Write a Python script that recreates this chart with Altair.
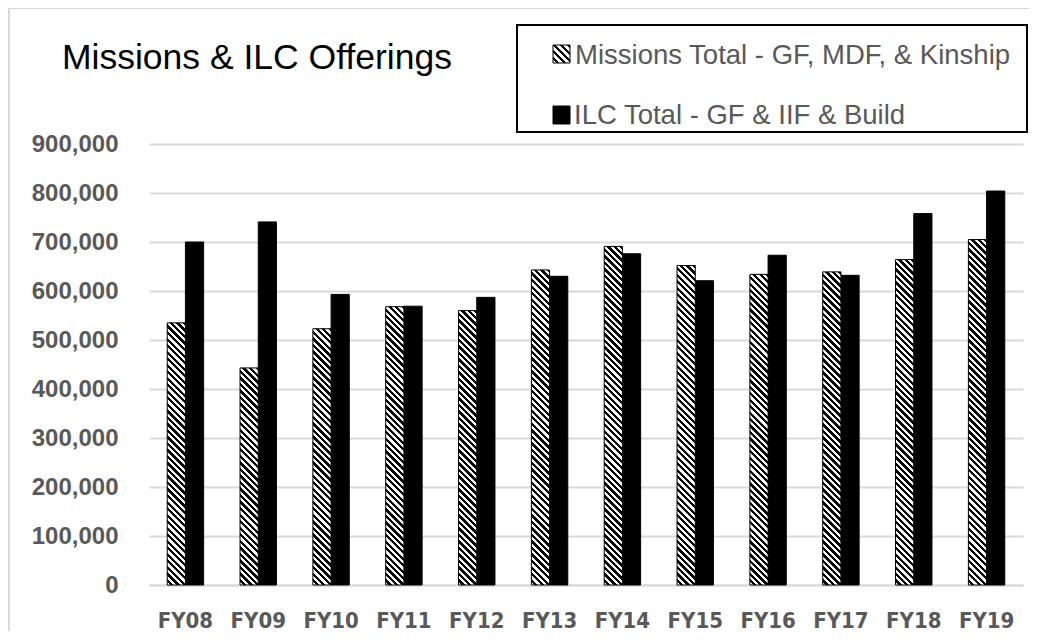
import altair as alt
import pandas as pd

# ---------------- data ----------------
years = ["FY08", "FY09", "FY10", "FY11", "FY12", "FY13",
         "FY14", "FY15", "FY16", "FY17", "FY18", "FY19"]
missions = [535000, 443000, 523000, 568000, 560000, 643000,
            691000, 652000, 634000, 639000, 664000, 705000]
ilc = [700000, 741000, 593000, 569000, 587000, 630000,
       676000, 621000, 673000, 632000, 758000, 804000]
series = ["Missions Total - GF, MDF, & Kinship", "ILC Total - GF & IIF & Build"]
y_ticks = [0, 100000, 200000, 300000, 400000, 500000, 600000, 700000, 800000, 900000]
title_text = "Missions & ILC Offerings"

# ---------------- layout / style ----------------
W, H = 874, 441
YMAX = 900000
PAD_IN, PAD_OUT = 0.5, 0.25
STEP = W / (len(years) - PAD_IN + 2 * PAD_OUT)
BAR_W = STEP * (1 - PAD_IN) / 2
PITCH = 6.5
GREY = "#595959"
FONT = "Liberation Sans"
NARROW = "Liberation Sans Narrow, DejaVu Sans Condensed, Liberation Sans"


def hatch(w, h, pitch=PITCH):
    """Diagonal '\\' stripe pattern as a linear gradient in bbox units."""
    n = max(1, round((w + h) / pitch))
    k = (w + h) / (w * w + h * h)
    stops = []
    for i in range(n):
        a, b, c = i / n, (i + 0.5) / n, (i + 1) / n
        stops += [
            {"offset": a, "color": "white"},
            {"offset": b, "color": "white"},
            {"offset": b, "color": "black"},
            {"offset": c, "color": "black"},
        ]
    return {"gradient": "linear", "x1": 0, "y1": 1,
            "x2": k * w, "y2": 1 - k * h, "stops": stops}


rows = []
for yr, m, i in zip(years, missions, ilc):
    rows.append({"year": yr, "series": series[0], "value": m})
    rows.append({"year": yr, "series": series[1], "value": i})
df = pd.DataFrame(rows)

x_enc = alt.X(
    "year:N",
    scale=alt.Scale(domain=years, paddingInner=PAD_IN, paddingOuter=PAD_OUT),
    axis=alt.Axis(title=None, labelAngle=0, ticks=False, tickSize=0,
                  domainColor="#d9d9d9", domainWidth=2,
                  labelFont=NARROW, labelFontSize=22, labelFontWeight="bold",
                  labelColor=GREY, labelPadding=25),
)
xo_enc = alt.XOffset("series:N", scale=alt.Scale(domain=series, paddingInner=0, paddingOuter=0))
y_enc = alt.Y(
    "value:Q",
    scale=alt.Scale(domain=[0, YMAX], nice=False, zero=True),
    axis=alt.Axis(title=None, values=y_ticks, format=",.0f", ticks=False, tickSize=0,
                  domain=False, grid=True, gridColor="#d9d9d9", gridWidth=2,
                  labelFont=FONT, labelFontSize=24, labelFontWeight="bold",
                  labelColor=GREY, labelPadding=31),
)

base = alt.Chart(df).encode(x=x_enc, xOffset=xo_enc, y=y_enc)

# solid black ILC bars
ilc_bars = base.transform_filter(alt.datum.series == series[1]).mark_bar(
    fill="black", stroke="black", strokeWidth=1
)

# hatched Missions bars, one layer each (pattern sized to each bar)
hatched_layers = []
for yr, m in zip(years, missions):
    h = m / YMAX * H
    hatched_layers.append(
        base.transform_filter(
            (alt.datum.series == series[0]) & (alt.datum.year == yr)
        ).mark_bar(fill=hatch(BAR_W, h), stroke="black", strokeWidth=1)
    )

one = pd.DataFrame({"a": [0]})

# outer chart border
border = alt.Chart(one).mark_rect(fill="transparent", stroke="#d9d9d9", strokeWidth=2).encode(
    x=alt.value(-140), x2=alt.value(2000), y=alt.value(-136), y2=alt.value(2000)
)

# title
title = alt.Chart(one).mark_text(
    text=title_text, font=FONT, fontSize=35.5, color="black", align="left", baseline="alphabetic"
).encode(x=alt.value(-87), y=alt.value(-75))

# legend box
leg_box = alt.Chart(one).mark_rect(fill="white", stroke="black", strokeWidth=2).encode(
    x=alt.value(368), x2=alt.value(878), y=alt.value(-119), y2=alt.value(-12)
)
leg_sym1 = alt.Chart(one).mark_rect(fill=hatch(17, 18, 7), stroke="black", strokeWidth=1).encode(
    x=alt.value(404), x2=alt.value(421), y=alt.value(-99), y2=alt.value(-81)
)
leg_sym2 = alt.Chart(one).mark_rect(fill="black", stroke="black", strokeWidth=1).encode(
    x=alt.value(404), x2=alt.value(421), y=alt.value(-38), y2=alt.value(-20)
)
leg_txt1 = alt.Chart(one).mark_text(
    text=series[0], font=FONT, fontSize=27.5, color=GREY, align="left", baseline="alphabetic"
).encode(x=alt.value(426), y=alt.value(-80))
leg_txt2 = alt.Chart(one).mark_text(
    text=series[1], font=FONT, fontSize=27.5, color=GREY, align="left", baseline="alphabetic"
).encode(x=alt.value(425), y=alt.value(-20))

chart = alt.layer(
    border, ilc_bars, *hatched_layers, title, leg_box, leg_sym1, leg_sym2, leg_txt1, leg_txt2
).properties(
    width=W,
    height=H,
    padding={"left": 141, "top": 136, "right": 6, "bottom": 46},
    autosize=alt.AutoSizeParams(type="none"),
    background="white",
).configure_view(stroke=None)

chart.save("out.html", embed_options={"renderer": "svg", "actions": False})
